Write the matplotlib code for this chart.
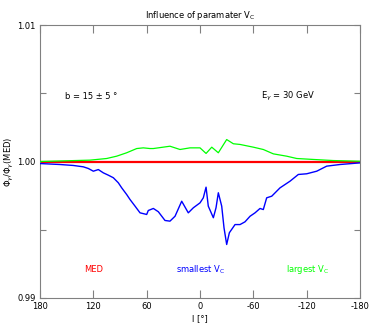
import matplotlib
matplotlib.use('Agg')
from matplotlib import pyplot as plt
from matplotlib.ticker import MultipleLocator, FuncFormatter

# longitude l [deg] and ratio Phi / Phi(MED)
l_small = [180, 157.5, 142.5, 131.3, 125.7, 120.0, 114.4, 108.8, 103.2, 97.5, 91.9,
           88.1, 82.5, 78.8, 73.1, 67.5, 60.0, 58.2, 52.5, 46.9, 39.4, 33.8, 28.1,
           20.6, 13.2, 7.5, 0.0, -3.7, -6.8, -9.3, -15.0, -18.0, -20.6, -24.4,
           -27.0, -30.0, -33.0, -39.4, -45.0, -50.6, -56.3, -61.9, -67.5, -71.2,
           -75.0, -80.7, -90.0, -101.3, -110.6, -120.0, -131.3, -142.5, -157.5, -180]
v_small = [0.99985, 0.99978, 0.99971, 0.99961, 0.99949, 0.99929, 0.99941, 0.99917,
           0.99900, 0.99881, 0.99844, 0.99807, 0.99758, 0.99722, 0.99673, 0.99624,
           0.99612, 0.99641, 0.99656, 0.99632, 0.99568, 0.99563, 0.99599, 0.99709,
           0.99624, 0.99661, 0.99697, 0.99734, 0.99812, 0.99673, 0.99588, 0.99661,
           0.99771, 0.99673, 0.99514, 0.99392, 0.99478, 0.99538, 0.99538, 0.99558,
           0.99599, 0.99624, 0.99656, 0.99648, 0.99734, 0.99746, 0.99807, 0.99856,
           0.99905, 0.99910, 0.99929, 0.99966, 0.99978, 0.99990]

l_large = [180, 123.8, 105.0, 93.8, 82.5, 71.2, 63.8, 56.3, 52.5, 33.8, 22.5, 11.3,
           0.0, -6.8, -13.2, -20.6, -30.0, -37.5, -45.0, -60.0, -71.2, -82.5, -97.5,
           -108.8, -127.5, -150.0, -180]
v_large = [1.00000, 1.00010, 1.00022, 1.00039, 1.00064, 1.00095, 1.00100, 1.00095,
           1.00095, 1.00112, 1.00088, 1.00100, 1.00100, 1.00059, 1.00105, 1.00064,
           1.00161, 1.00130, 1.00125, 1.00105, 1.00088, 1.00056, 1.00039, 1.00022,
           1.00015, 1.00007, 1.00002]

l_med = [180, -180]
v_med = [1.0, 1.0]

plt.rcParams['font.family'] = ['DejaVu Sans']
plt.rcParams['axes.unicode_minus'] = False
fig = plt.figure(figsize=(3.74, 3.27), dpi=100)
ax = fig.add_axes([0.107, 0.0887, 0.8556, 0.8348])

ax.plot(l_med, v_med, color='#ff0000', lw=1.6, zorder=2)
ax.plot(l_large, v_large, color='#00ff00', lw=0.9, zorder=3)
ax.plot(l_small, v_small, color='#0000ff', lw=1.0, zorder=3)

ax.set_xlim(180, -180)
ax.set_ylim(0.99, 1.01)
ax.xaxis.set_major_locator(MultipleLocator(60))
ax.yaxis.set_major_locator(MultipleLocator(0.005))
ax.yaxis.set_major_formatter(FuncFormatter(
    lambda v, p: f'{v:.2f}' if abs(round(v / 0.01) * 0.01 - v) < 1e-6 else ''))
ax.tick_params(axis='x', direction='in', length=6, width=0.8, colors='#808080',
               labelcolor='black', labelsize=6, top=True, pad=3)
ax.tick_params(axis='y', direction='in', length=4, width=0.8, colors='#808080',
               labelcolor='black', labelsize=6, right=True, pad=3)
for s in ax.spines.values():
    s.set_color('#808080')
    s.set_linewidth(0.8)

ax.set_xlabel('l [°]', fontsize=6, labelpad=2)
ax.set_ylabel(r'$\Phi_\gamma/\Phi_\gamma$(MED)', fontsize=6, labelpad=1)
ax.set_title('Influence of paramater V$_\\mathrm{C}$', fontsize=6, pad=5)

ax.text(0.078, 0.73, 'b = 15 ± 5 °', transform=ax.transAxes, fontsize=6)
ax.text(0.69, 0.73, r'E$_\gamma$ = 30 GeV', transform=ax.transAxes, fontsize=6)
ax.text(0.138, 0.095, 'MED', transform=ax.transAxes, fontsize=6, color='#ff0000')
ax.text(0.425, 0.095, r'smallest V$_\mathrm{C}$', transform=ax.transAxes, fontsize=6,
        color='#0000ff')
ax.text(0.77, 0.095, r'largest V$_\mathrm{C}$', transform=ax.transAxes, fontsize=6,
        color='#00ff00')

fig.savefig('out.png', dpi=100)
